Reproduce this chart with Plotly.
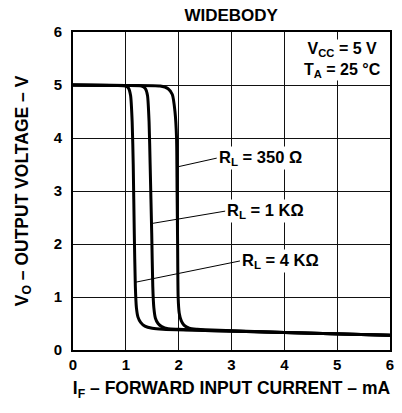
import plotly.graph_objects as go

# I_F (mA) vs V_O (V) for three load resistances
x_4k = [0, 0.8, 1.0, 1.05, 1.09, 1.12, 1.14, 1.16, 1.18, 1.2, 1.23, 1.28, 1.36, 1.5, 1.7, 2.5, 4.0, 6.0]
v_4k = [5.0, 4.99, 4.98, 4.94, 4.8, 4.3, 3.5, 2.2, 1.2, 0.8, 0.62, 0.52, 0.45, 0.41, 0.39, 0.37, 0.33, 0.28]

x_1k = [0, 1.0, 1.3, 1.37, 1.41, 1.44, 1.46, 1.49, 1.51, 1.53, 1.56, 1.61, 1.68, 1.8, 2.0, 2.5, 4.0, 6.0]
v_1k = [5.0, 4.99, 4.98, 4.93, 4.8, 4.3, 3.5, 2.2, 1.2, 0.8, 0.6, 0.5, 0.44, 0.4, 0.39, 0.37, 0.33, 0.28]

x_350 = [0, 1.0, 1.65, 1.8, 1.88, 1.93, 1.96, 1.97, 1.98, 1.99, 2.01, 2.05, 2.1, 2.2, 2.35, 2.5, 4.0, 6.0]
v_350 = [5.0, 4.99, 4.98, 4.93, 4.82, 4.5, 4.0, 3.0, 2.0, 1.0, 0.7, 0.55, 0.47, 0.41, 0.39, 0.38, 0.33, 0.28]

x_ticks = [0, 1, 2, 3, 4, 5, 6]
y_ticks = [0, 1, 2, 3, 4, 5, 6]

fig = go.Figure()
for xs, ys in [(x_4k, v_4k), (x_1k, v_1k), (x_350, v_350)]:
    fig.add_trace(go.Scatter(x=xs, y=ys, mode="lines",
                             line=dict(color="black", width=3, shape="spline", smoothing=0.6),
                             showlegend=False, hoverinfo="skip"))

lbl_font = dict(family="Liberation Sans, Arial", size=16.5, color="black", weight="bold")
labels = [
    ("R<sub>L</sub> = 350 Ω", 2.0, 3.46, 2.72, 3.62),
    ("R<sub>L</sub> = 1 KΩ", 1.51, 2.39, 2.88, 2.62),
    ("R<sub>L</sub> = 4 KΩ", 1.19, 1.28, 3.16, 1.68),
]
for txt, tx, ty, ax, ay in labels:
    fig.add_annotation(x=tx, y=ty, ax=ax, ay=ay, axref="x", ayref="y",
                       text=txt, showarrow=True, arrowhead=0, arrowwidth=1,
                       arrowcolor="black", xanchor="left", yanchor="middle",
                       bgcolor="white", borderpad=1, font=lbl_font)

fig.add_annotation(x=5.85, y=5.48, xref="x", yref="y", showarrow=False,
                   text="V<sub>CC</sub> = 5 V<br>T<sub>A</sub> = 25 °C",
                   align="center", xanchor="right", yanchor="middle",
                   bgcolor="white", borderpad=0,
                   font=dict(family="Liberation Sans, Arial", size=16, color="black", weight="bold"))

tick_font = dict(family="Liberation Sans, Arial", size=15, color="black", weight="bold")
title_font = dict(family="Liberation Sans, Arial", size=17.5, color="black", weight="bold")
fig.update_layout(
    width=402, height=413,
    margin=dict(l=73, r=12, t=32, b=63),
    paper_bgcolor="white", plot_bgcolor="white",
    title=dict(text="WIDEBODY", x=0.575, xanchor="center", y=0.964, yanchor="middle",
               font=dict(family="Liberation Sans, Arial", size=17, color="black", weight="bold")),
    xaxis=dict(range=[0, 6], tickvals=x_ticks, showgrid=True, gridcolor="#111", gridwidth=1,
               showline=True, linecolor="black", linewidth=2, mirror=True, zeroline=False,
               tickfont=tick_font, automargin=False, ticklabeloverflow="allow",
               title=dict(text="I<sub>F</sub> – FORWARD INPUT CURRENT – mA", font=title_font, standoff=10)),
    yaxis=dict(range=[0, 6], tickvals=y_ticks, showgrid=True, gridcolor="#111", gridwidth=1,
               showline=True, linecolor="black", linewidth=2, mirror=True, zeroline=False,
               tickfont=tick_font, ticklabelstandoff=6, automargin=False,
               title=dict(text="V<sub>O</sub> – OUTPUT VOLTAGE – V", font=title_font, standoff=21)),
)

# drop the page's default body margin so the figure sits at the window origin
fig.write_html("out.html", config={"displayModeBar": False},
               post_script="document.body.style.margin='0px';")
